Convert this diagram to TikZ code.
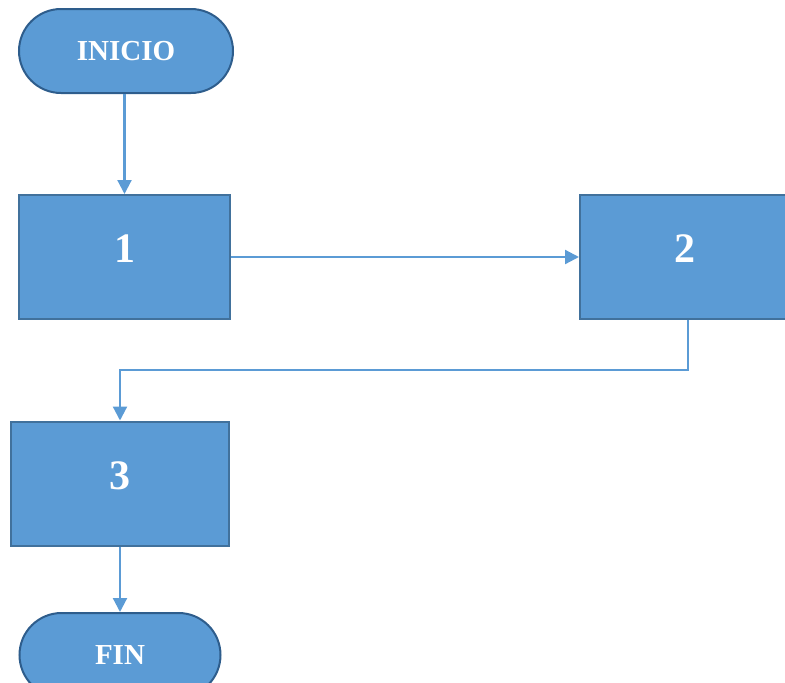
\documentclass[tikz,border=0pt]{standalone}
\usepackage{fontspec}
\setmainfont{Liberation Serif}
\usetikzlibrary{shapes.misc,arrows.meta}
\definecolor{boxfill}{HTML}{5B9BD5}
\definecolor{boxline}{HTML}{41719C}
\definecolor{termline}{HTML}{2E5D8C}
\definecolor{flow}{HTML}{5B9BD5}
\begin{document}
\begin{tikzpicture}[x=1pt,y=-1pt,
  terminal/.style={rounded rectangle, draw=termline, line width=2pt, fill=boxfill,
    minimum width=214pt, minimum height=84pt, inner sep=0pt, text=white,
    font=\fontsize{29}{29}\selectfont\bfseries},
  process/.style={rectangle, draw=boxline, line width=2pt, fill=boxfill,
    minimum height=124pt, inner sep=0pt, text=white, text depth=16pt,
    font=\fontsize{42}{42}\selectfont\bfseries},
  link/.style={draw=flow, line width=2.2pt, -{Triangle[length=14pt,width=14pt]}}]
\useasboundingbox (0,0) rectangle (785,683);
\clip (0,0) rectangle (785,683);

\node[terminal] (inicio) at (126,51) {INICIO};
\node[process, minimum width=211pt] (p1) at (124.5,257) {1};
\node[process, minimum width=210pt] (p2) at (685,257) {2};
\node[process, minimum width=218pt] (p3) at (120,483.5) {3};
\node[terminal, minimum width=201pt] (fin) at (120,655) {FIN};

\coordinate (bend1) at (688,370);
\coordinate (bend2) at (120,370);

\draw[link] (inicio.south -| p1.north) -- (p1.north);
\draw[link] (p1.east) -- (p2.west);
\draw[link] (p2.south -| bend1) -- (bend1) -- (bend2) -- (p3.north);
\draw[link] (p3.south) -- (fin.north);
\end{tikzpicture}
\end{document}
